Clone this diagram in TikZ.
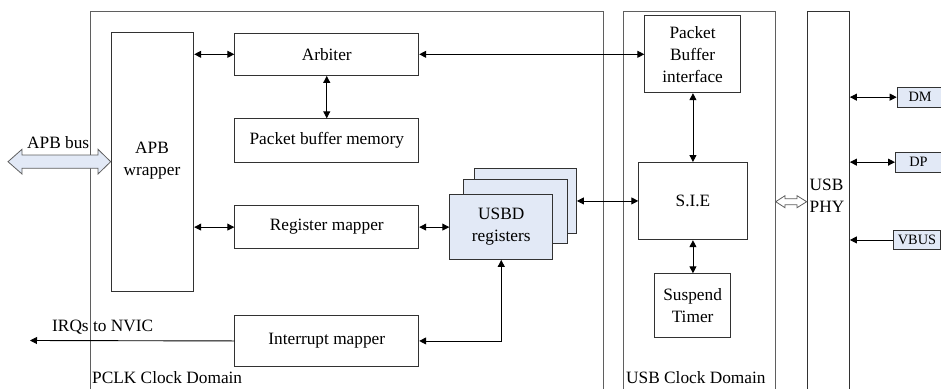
\documentclass[tikz,border=0pt]{standalone}
\usepackage{fontspec}
\setmainfont{Liberation Serif}
\usetikzlibrary{arrows.meta}
\definecolor{boxblue}{RGB}{226,233,246}
\definecolor{lineg}{RGB}{50,50,50}
\definecolor{domg}{RGB}{95,95,95}
\begin{document}
\begin{tikzpicture}[x=1pt,y=-1pt,
  font=\rmfamily\fontsize{17.3}{22}\selectfont,
  >={Triangle[length=7pt,width=7pt]},
  blk/.style={draw=lineg,line width=0.9pt,anchor=north west,inner sep=0pt,align=center},
  blue/.style={blk,fill=boxblue},
  pin/.style={blue,font=\rmfamily\fontsize{14.3}{17}\selectfont},
  conn/.style={draw=black,line width=0.9pt},
  dom/.style={draw=domg,line width=0.9pt},
  hollow/.style={draw=domg,line width=0.8pt,fill=boxblue},
  lbl/.style={inner sep=0pt,anchor=west}
]
\useasboundingbox (0,0) rectangle (941,388);

% clock domains
\draw[dom] (90.7,395) -- (90.7,11) -- (603.3,11) -- (603.3,395);
\draw[dom] (623.3,395) -- (623.3,11) -- (775.7,11) -- (775.7,395);
\node[lbl] (pclklbl) at (92,378) {PCLK Clock Domain};
\node[lbl] (usblbl) at (626,378) {USB Clock Domain};

% PCLK domain blocks
\node[blk,minimum width=82.6pt,minimum height=258.7pt] (apb) at (110.7,32.3) {};
\node[align=center,inner sep=0pt] (apbtxt) at (152,161) {APB\\wrapper};
\node[blk,minimum width=184pt,minimum height=42.3pt] (arb) at (234.3,32.7) {Arbiter};
\node[blk,minimum width=184pt,minimum height=43.4pt] (pbm) at (234.3,118.3) {Packet buffer memory};
\node[blk,minimum width=184pt,minimum height=43.3pt] (regmap) at (234.3,205) {Register mapper};
\node[blk,minimum width=184pt,minimum height=51pt] (intmap) at (234.3,315) {Interrupt mapper};

% USBD register stack
\node[blue,minimum width=102pt,minimum height=64.4pt] (usbd3) at (474,168.3) {};
\node[blue,minimum width=103.4pt,minimum height=64.3pt] (usbd2) at (463.3,179) {};
\node[blue,minimum width=103pt,minimum height=65pt] (usbd) at (449.3,194) {USBD\\registers};

% USB domain blocks
\node[blk,minimum width=95.7pt,minimum height=77.3pt] (pbi) at (644.3,15) {Packet\\Buffer\\interface};
\node[blk,minimum width=108.4pt,minimum height=77.3pt] (sie) at (638.3,162) {S.I.E};
\node[blk,minimum width=75.7pt,minimum height=63.4pt] (timer) at (654.3,273.3) {Suspend\\Timer};

% PHY
\node[blk,minimum width=42.3pt,minimum height=384pt] (phy) at (806.7,11) {};
\node[align=left,inner sep=0pt] (phytxt) at (827,196) {USB\\PHY};

% pins
\node[pin,minimum width=46pt,minimum height=20pt] (dm) at (896.7,86.7) {DM};
\node[pin,minimum width=46pt,minimum height=20pt] (dp) at (895,151.7) {DP};
\node[pin,minimum width=47pt,minimum height=19pt] (vbus) at (893,230) {VBUS};

% connectors
\draw[conn,<->] (apb.east |- arb.west) -- (arb.west);
\draw[conn,<->] (apb.east |- regmap.west) -- (regmap.west);
\draw[conn,<->] (arb.south) -- (pbm.north);
\draw[conn,<->] (arb.east) -- (pbi.west |- arb.east);
\draw[conn,<->] (regmap.east) -- (usbd.west |- regmap.east);
\draw[conn,<->] (usbd3.east) -- (sie.west |- usbd3.east);
\draw[conn,<->] (usbd.south) |- (intmap.east);
\coordinate (nvic) at (30,340.5);
\draw[conn,->] (intmap.west) -- (nvic);
\node[lbl] (irqlbl) at (52,327) {IRQs to NVIC};
\draw[conn,<->] (pbi.south -| sie.north) -- (sie.north);
\draw[conn,<->] (sie.south) -- (timer.north -| sie.south);
\draw[conn,<->] (phy.east |- dm.west) -- (dm.west);
\draw[conn,<->] (phy.east |- dp.west) -- (dp.west);
\draw[conn,->] (vbus.west) -- (phy.east |- vbus.west);

% hollow bus arrows
\draw[hollow] (8,161.7) -- (22,149.3) -- (22,155) -- (98,155) -- (98,149.3)
  -- (110.7,161.7) -- (98,174) -- (98,168.3) -- (22,168.3) -- (22,174) -- cycle;
\node[lbl] (apbbus) at (27,143) {APB bus};
\draw[draw=domg,line width=0.8pt,fill=white] (775.7,201.7) -- (785,195.7) -- (785,198.7) -- (797,198.7)
  -- (797,195.7) -- (806.7,201.7) -- (797,207.7) -- (797,204.7) -- (785,204.7) -- (785,207.7) -- cycle;
\end{tikzpicture}
\end{document}
